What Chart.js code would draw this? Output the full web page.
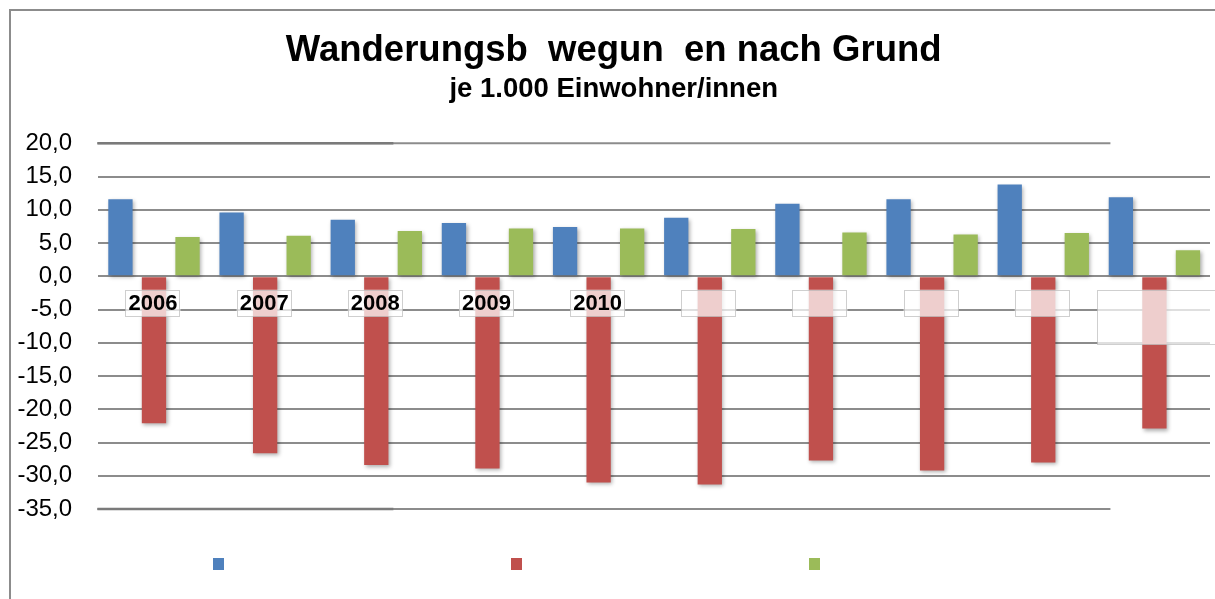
<!DOCTYPE html>
<html>
<head>
<meta charset="utf-8">
<script src="https://cdn.jsdelivr.net/npm/chart.js@4.4.1/dist/chart.umd.min.js"></script>
<style>
html, body { margin: 0; padding: 0; background: #ffffff; }
#wrap { position: relative; width: 1215px; height: 599px; overflow: hidden; background: #ffffff; }
#frame { position: absolute; left: 9px; top: 9px; width: 1300px; height: 700px;
         border-left: 2px solid #8c8c8c; border-top: 2px solid #8c8c8c; }
canvas { position: absolute; left: 0; top: 0; }
</style>
</head>
<body>
<div id="wrap"><div id="frame"></div><canvas id="c" width="1215" height="599"></canvas></div>
<script>
// ---- data ----
const categories = ['2006', '2007', '2008', '2009', '2010', '2011', '2012', '2013', '2014', '2015'];
const tickLabels = ['2006', '2007', '2008', '2009', '2010', '', '', '', '', ''];
const seriesBlue  = [11.6, 9.6, 8.5, 8.0, 7.4, 8.8, 10.9, 11.6, 13.8, 11.9];
const seriesRed   = [-22.1, -26.6, -28.4, -28.9, -31.0, -31.3, -27.7, -29.2, -28.0, -22.9];
const seriesGreen = [5.9, 6.1, 6.8, 7.2, 7.2, 7.1, 6.6, 6.3, 6.5, 3.9];
const yMin = -35, yMax = 20, yStep = 5;
const titleText = 'Wanderungsb  wegun  en nach Grund';
const subtitleText = 'je 1.000 Einwohner/innen';

const FONT = '"Liberation Sans", Arial, Helvetica, sans-serif';
const BLUE = '#4F81BD', RED = '#C0504D', GREEN = '#9BBB59';
const GRID = '#8c8c8c';

const edgeLines = {
  id: 'edgeLines',
  beforeDatasetsDraw(chart) {
    const { ctx, chartArea, scales: { x, y } } = chart;
    const L = chartArea.left - 1;
    const R = x.getPixelForValue(categories.length - 1) - 44;
    ctx.save();
    [y.getPixelForValue(yMax), y.getPixelForValue(yMin)].forEach(py => {
      ctx.strokeStyle = GRID; ctx.lineWidth = 2;
      ctx.beginPath(); ctx.moveTo(L, py); ctx.lineTo(R, py); ctx.stroke();
      ctx.strokeStyle = '#7a7a7a'; ctx.lineWidth = 2.5;
      ctx.beginPath(); ctx.moveTo(L, py); ctx.lineTo(L + 296, py); ctx.stroke();
    });
    ctx.restore();
  }
};

const barShadow = {
  id: 'barShadow',
  beforeDatasetsDraw(chart) {
    const ctx = chart.ctx;
    ctx.save();
    ctx.shadowColor = 'rgba(0,0,0,0.32)';
    ctx.shadowBlur = 4;
    ctx.shadowOffsetX = 1.5;
    ctx.shadowOffsetY = 2;
  },
  afterDatasetsDraw(chart) { chart.ctx.restore(); }
};

const labelBoxes = {
  id: 'labelBoxes',
  afterDatasetsDraw(chart) {
    const { ctx, scales: { x, y } } = chart;
    const cy = y.getPixelForValue(-4.05);
    ctx.save();
    tickLabels.forEach((lab, i) => {
      const cx = x.getPixelForValue(i) - 1;
      let w = 55, h = 27, left = cx - w / 2, top = cy - h / 2;
      if (i === tickLabels.length - 1) { left = cx - 56; w = 130; h = 55; }
      ctx.fillStyle = 'rgba(255,255,255,0.72)';
      ctx.fillRect(left, top, w, h);
      ctx.strokeStyle = 'rgba(175,175,175,0.6)';
      ctx.lineWidth = 1;
      ctx.strokeRect(Math.round(left) + 0.5, Math.round(top) + 0.5, Math.round(w) - 1, Math.round(h) - 1);
      if (lab) {
        ctx.fillStyle = '#000';
        ctx.font = 'bold 22px ' + FONT;
        ctx.textAlign = 'center';
        ctx.textBaseline = 'middle';
        ctx.fillText(lab, cx, cy + 1);
      }
    });
    ctx.restore();
  }
};

const legendSquares = {
  id: 'legendSquares',
  afterDraw(chart) {
    const ctx = chart.ctx;
    ctx.save();
    chart.data.datasets.forEach((ds, i) => {
      ctx.fillStyle = ds.backgroundColor;
      ctx.fillRect(213 + i * 298, 558, 11, 12);
    });
    ctx.restore();
  }
};

new Chart(document.getElementById('c'), {
  type: 'bar',
  data: {
    labels: categories,
    datasets: [
      { label: '', data: seriesBlue,  backgroundColor: BLUE },
      { label: '', data: seriesRed,   backgroundColor: RED },
      { label: '', data: seriesGreen, backgroundColor: GREEN }
    ]
  },
  options: {
    responsive: false,
    animation: false,
    devicePixelRatio: 1,
    datasets: { bar: { categoryPercentage: 0.905, barPercentage: 0.725, borderWidth: 0 } },
    layout: { padding: { left: 17.4, right: 5, top: 0, bottom: 90 } },
    plugins: {
      legend: { display: false },
      tooltip: { enabled: false },
      title: {
        display: true, text: titleText, color: '#000',
        font: { family: FONT, size: 36.5, weight: 'bold', lineHeight: 1.2 },
        padding: { top: 29.1, bottom: 0 }
      },
      subtitle: {
        display: true, text: subtitleText, color: '#000',
        font: { family: FONT, size: 27.5, weight: 'bold', lineHeight: 1.2 },
        padding: { top: 0.4, bottom: 37 }
      }
    },
    scales: {
      x: { display: false },
      y: {
        min: yMin, max: yMax,
        afterFit: s => { s.width = 81; },
        ticks: {
          stepSize: yStep, padding: 26.3, color: '#000',
          font: { family: FONT, size: 24 },
          callback: v => Number(v).toFixed(1).replace('.', ',')
        },
        grid: {
          drawTicks: false, lineWidth: 2,
          color: c => (c.tick && (c.tick.value === yMax || c.tick.value === yMin)) ? 'rgba(0,0,0,0)' : GRID
        },
        border: { display: false }
      }
    }
  },
  plugins: [edgeLines, barShadow, labelBoxes, legendSquares]
});
</script>
</body>
</html>
